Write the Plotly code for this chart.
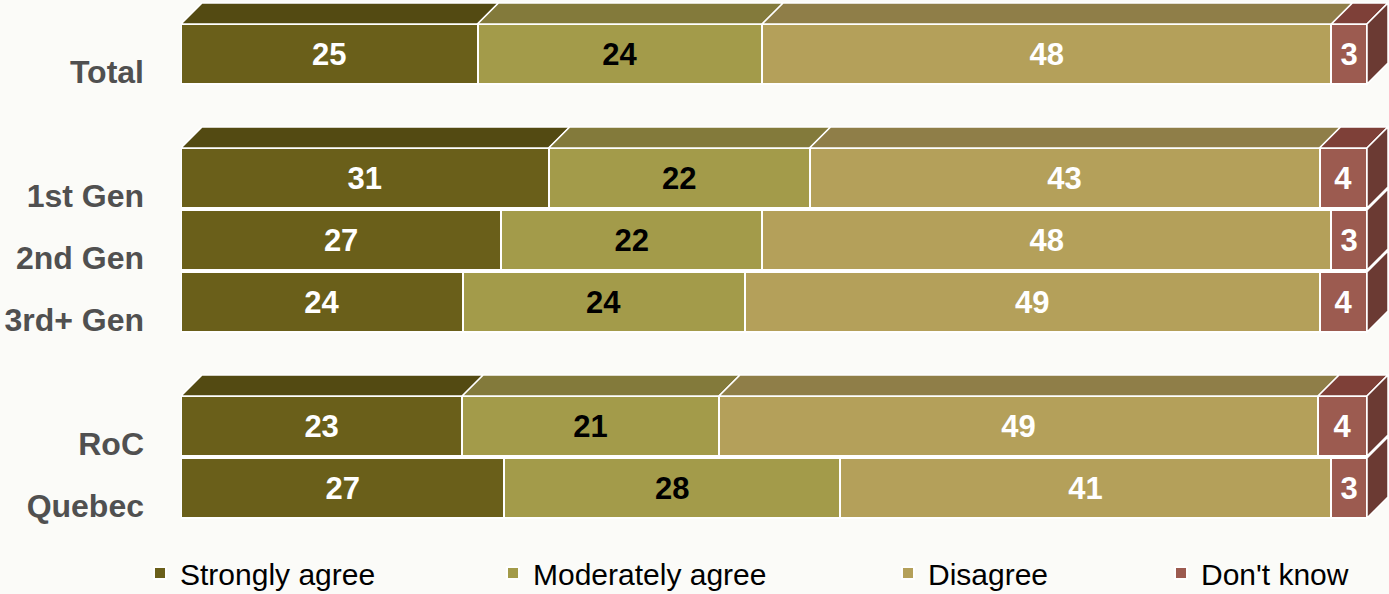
import plotly.graph_objects as go

categories = ["Total", "1st Gen", "2nd Gen", "3rd+ Gen", "RoC", "Quebec"]
positions = [0, 2, 3, 4, 6, 7]
series_names = ["Strongly agree", "Moderately agree", "Disagree", "Don't know"]
strongly = [25, 31, 27, 24, 23, 27]
moderately = [24, 22, 22, 24, 21, 28]
disagree = [48, 43, 48, 49, 49, 41]
dont_know = [3, 4, 3, 4, 4, 3]
series_values = [strongly, moderately, disagree, dont_know]

front_colors = ["#6a5f1a", "#a39b4a", "#b4a05a", "#9c5b50"]
top_colors = ["#534a12", "#837a3b", "#8f7e48", "#7e4038"]
side_color = "#6b3a33"
text_colors = ["white", "black", "white", "white"]

W, H = 1389, 594
L, R, T, B = 181, 0, 0, 54
px_per_unit_x = 11.86
px_per_slot = 62
plot_w = W - L - R
plot_h = H - T - B
x_max = plot_w / px_per_unit_x
y_top = -54 / px_per_slot
y_bot = y_top + plot_h / px_per_slot

bar_w = 0.97
dx = 21 / px_per_unit_x
dy = 21 / px_per_slot

fig = go.Figure()
legend_ids = ["legend", "legend2", "legend3", "legend4"]
for i, (name, vals) in enumerate(zip(series_names, series_values)):
    fig.add_trace(go.Bar(
        name=name, y=positions, x=vals, orientation="h", width=bar_w,
        marker=dict(color=front_colors[i], line=dict(color="white", width=2)),
        text=vals, texttemplate="%{text}", textposition="inside",
        insidetextanchor="middle", constraintext="none", textangle=0,
        textfont=dict(family="Liberation Sans, Arial", size=31, color=text_colors[i],
                      weight="bold"),
        legend=legend_ids[i], hoverinfo="skip",
    ))

# 3D faces computed from the normalized data
shapes = []
for j, pos in enumerate(positions):
    total = sum(s[j] for s in series_values)
    ytop = pos - bar_w / 2
    ybot = pos + bar_w / 2
    if (pos - 1) not in positions:
        cum = 0.0
        for i, s in enumerate(series_values):
            x0 = cum / total * 100
            cum += s[j]
            x1 = cum / total * 100
            path = (f"M {x0},{ytop} L {x1},{ytop} L {x1+dx},{ytop-dy} "
                    f"L {x0+dx},{ytop-dy} Z")
            shapes.append(dict(type="path", path=path, xref="x", yref="y",
                               fillcolor=top_colors[i],
                               line=dict(color="white", width=1.5)))
    path = (f"M 100,{ytop} L {100+dx},{ytop-dy} L {100+dx},{ybot-dy} "
            f"L 100,{ybot} Z")
    shapes.append(dict(type="path", path=path, xref="x", yref="y",
                       fillcolor=side_color, line=dict(color="white", width=1.5)))

leg_px = [140, 493, 888, 1161]
leg_y = (plot_h - (573 - T)) / plot_h
legend_common = dict(orientation="h", yanchor="middle", y=leg_y, xanchor="left",
                     bgcolor="rgba(0,0,0,0)", itemwidth=30,
                     font=dict(family="Liberation Sans, Arial", size=30, color="black"))
layout_legends = {}
for k, lid in enumerate(legend_ids):
    layout_legends[lid] = dict(x=(leg_px[k] - L) / plot_w, **legend_common)

fig.update_layout(
    width=W, height=H,
    margin=dict(l=L, r=R, t=T, b=B, pad=0, autoexpand=False),
    barmode="stack", barnorm="percent",
    paper_bgcolor="#fbfbf8", plot_bgcolor="rgba(0,0,0,0)",
    showlegend=True,
    shapes=shapes,
    xaxis=dict(range=[0, x_max], visible=False, fixedrange=True),
    yaxis=dict(range=[y_bot, y_top], tickvals=[p + 0.28 for p in positions],
               ticktext=categories, showgrid=False, zeroline=False, ticks="",
               ticklabelstandoff=36, automargin=False, fixedrange=True,
               tickfont=dict(family="Liberation Sans, Arial", size=32, color="#505050",
                             weight="bold")),
    **layout_legends,
)

fig.write_html("out.html", config={"displayModeBar": False},
               post_script="document.body.style.margin='0';")
